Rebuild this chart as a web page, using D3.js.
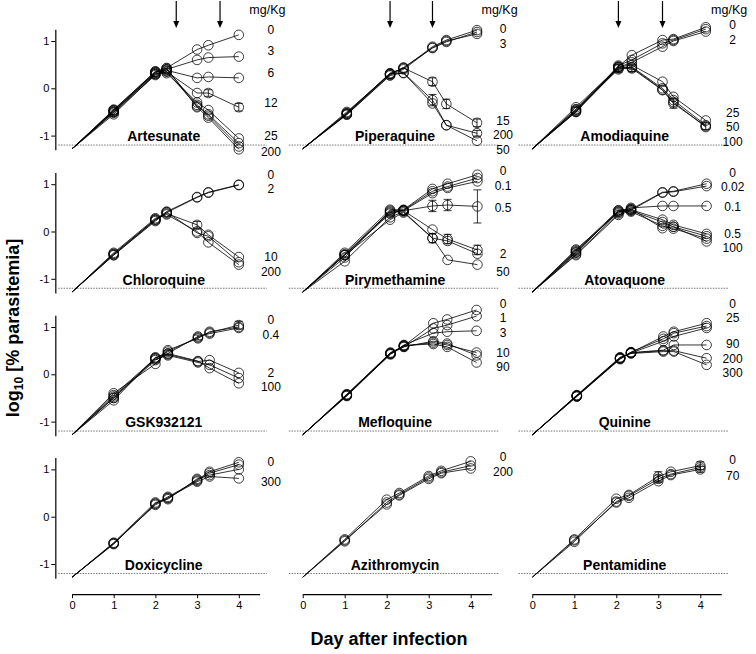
<!DOCTYPE html>
<html><head><meta charset="utf-8">
<script src="https://cdn.jsdelivr.net/npm/d3@7"></script>
<style>
body{margin:0;background:#fff;}
text{font-family:"Liberation Sans",Arial,sans-serif;fill:#000;}
</style></head>
<body>
<script>
// ---------------- DATA ----------------
const drugNames = ["Artesunate","Piperaquine","Amodiaquine","Chloroquine","Pirymethamine","Atovaquone","GSK932121","Mefloquine","Quinine","Doxicycline","Azithromycin","Pentamidine"];
const xTicks = [0,1,2,3,4];
const yTicks = [-1,0,1];
const startDay = 0, startValue = -1.28;
const detectionLimit = -1.2;
const arrowDays = [[2.5,3.55],[2.08,3.09],[2.05,3.1]];
const unitLabel = "mg/Kg";
const xTitle = "Day after infection";

// Artesunate
const artesunateDays = [1,2,2.27,3,3.27,4];
const artesunateDoses = ["0","3","6","12","25","","","200"];
const artesunateValues = [
  [-0.47,0.33,0.43,0.82,0.91,1.13],
  [-0.50,0.30,0.40,0.60,0.65,0.67],
  [-0.45,0.35,0.38,0.22,0.24,0.22],
  [-0.52,0.28,0.35,-0.10,-0.10,-0.40],
  [-0.48,0.32,0.32,-0.30,-0.46,-1.06],
  [-0.55,0.30,0.36,-0.38,-0.55,-1.16],
  [-0.50,0.34,0.40,-0.35,-0.58,-1.23],
  [-0.46,0.36,0.42,-0.40,-0.62,-1.29]];
const artesunateLabelAt = [1.23,0.79,0.33,-0.30,-1.00,null,null,-1.34];
const artesunateErrors = [[3,4,0.07],[3,5,0.08]];

// Piperaquine
const piperaquineDays = [1.05,2.08,2.4,3.09,3.42,4.15];
const piperaquineDoses = ["0","3","","15","200","50"];
const piperaquineValues = [
  [-0.52,0.32,0.42,0.88,1.02,1.23],
  [-0.55,0.28,0.40,0.86,1.00,1.15],
  [-0.50,0.30,0.44,0.85,0.98,1.19],
  [-0.54,0.30,0.43,0.14,-0.33,-0.73],
  [-0.56,0.27,0.33,-0.25,-0.78,-0.95],
  [-0.53,0.31,0.32,-0.32,-0.78,-1.11]];
const piperaquineLabelAt = [1.26,0.95,null,-0.69,-0.99,-1.29];
const piperaquineErrors = [[3,3,0.08],[3,4,0.1],[3,5,0.08],[4,3,0.12],[4,5,0.06]];

// Amodiaquine
const amodiaquineDays = [1.04,2.05,2.37,3.1,3.36,4.13];
const amodiaquineDoses = ["0","2","","25","50","","100"];
const amodiaquineValues = [
  [-0.44,0.46,0.70,1.02,1.04,1.29],
  [-0.48,0.44,0.55,0.88,1.00,1.20],
  [-0.50,0.48,0.60,0.95,1.02,1.25],
  [-0.40,0.45,0.49,0.14,-0.18,-0.68],
  [-0.50,0.42,0.42,-0.04,-0.32,-0.80],
  [-0.45,0.40,0.45,0.00,-0.25,-0.78],
  [-0.47,0.44,0.44,-0.03,-0.29,-0.82]];
const amodiaquineLabelAt = [1.34,1.02,null,-0.52,-0.82,null,-1.14];
const amodiaquineErrors = [[4,1,0.08],[4,2,0.07],[4,4,0.1],[4,5,0.07]];

// Chloroquine
const chloroquineDays = [1,2,2.27,3,3.27,4];
const chloroquineDoses = ["0","2","10","","200"];
const chloroquineValues = [
  [-0.47,0.25,0.42,0.73,0.83,0.99],
  [-0.50,0.22,0.40,0.72,0.82,0.98],
  [-0.45,0.28,0.38,0.14,-0.07,-0.54],
  [-0.50,0.24,0.41,-0.03,-0.10,-0.65],
  [-0.48,0.26,0.36,0.00,-0.23,-0.70]];
const chloroquineLabelAt = [1.20,0.90,-0.53,null,-0.85];
const chloroquineErrors = [[2,3,0.07]];

// Pirymethamine
const pirymethamineDays = [1.0,2.08,2.4,3.09,3.45,4.16];
const pirymethamineDoses = ["0","0.1","","0.5","2","","50"];
const pirymethamineValues = [
  [-0.45,0.46,0.46,0.90,1.01,1.20],
  [-0.50,0.40,0.44,0.81,0.92,1.06],
  [-0.48,0.42,0.45,0.85,0.95,1.13],
  [-0.55,0.44,0.44,0.54,0.56,0.53],
  [-0.50,0.38,0.44,0.04,-0.16,-0.39],
  [-0.63,0.30,0.42,-0.14,-0.20,-0.47],
  [-0.50,0.25,0.40,-0.14,-0.60,-0.70]];
const pirymethamineLabelAt = [1.28,0.97,null,0.50,-0.47,null,-0.85];
const pirymethamineErrors = [[3,3,0.12],[3,4,0.12],[3,5,0.35],[4,4,0.1],[4,5,0.1],[5,3,0.1]];

// Atovaquone
const atovaquoneDays = [1.04,2.05,2.35,3.1,3.36,4.15];
const atovaquoneDoses = ["0","0.02","0.1","0.5","","","100"];
const atovaquoneValues = [
  [-0.42,0.42,0.47,0.83,0.85,1.01],
  [-0.45,0.44,0.45,0.82,0.84,0.96],
  [-0.38,0.40,0.50,0.54,0.54,0.54],
  [-0.48,0.38,0.46,0.25,0.14,-0.05],
  [-0.50,0.35,0.44,0.20,0.10,-0.10],
  [-0.44,0.42,0.42,0.12,0.06,-0.15],
  [-0.40,0.45,0.48,0.07,0.10,-0.21]];
const atovaquoneLabelAt = [1.25,0.94,0.53,-0.04,null,null,-0.35];
const atovaquoneErrors = [];

// GSK932121
const gskDays = [1,2,2.3,3.02,3.3,4.0];
const gskDoses = ["0","0.4","","2","","100"];
const gskValues = [
  [-0.44,0.34,0.48,0.78,0.88,1.04],
  [-0.50,0.30,0.44,0.80,0.86,0.98],
  [-0.40,0.22,0.51,0.76,0.90,1.00],
  [-0.55,0.36,0.42,0.27,0.30,0.03],
  [-0.47,0.32,0.40,0.25,0.20,-0.08],
  [-0.50,0.34,0.44,0.28,0.13,-0.19]];
const gskLabelAt = [1.15,0.83,null,0.03,null,-0.27];
const gskErrors = [[0,5,0.08],[0,3,0.05]];

// Mefloquine
const mefloquineDays = [1.05,2.09,2.41,3.11,3.44,4.14];
const mefloquineDoses = ["0","1","3","10","","90"];
const mefloquineValues = [
  [-0.43,0.44,0.60,1.08,1.16,1.36],
  [-0.45,0.46,0.58,0.97,1.04,1.23],
  [-0.44,0.42,0.62,0.87,0.90,0.92],
  [-0.42,0.45,0.60,0.67,0.62,0.46],
  [-0.46,0.43,0.58,0.70,0.65,0.40],
  [-0.44,0.44,0.61,0.64,0.58,0.25]];
const mefloquineLabelAt = [1.50,1.19,0.87,0.46,null,0.15];
const mefloquineErrors = [];

// Quinine
const quinineDays = [1.06,2.09,2.35,3.12,3.37,4.15];
const quinineDoses = ["0","25","","90","200","300"];
const quinineValues = [
  [-0.45,0.34,0.46,0.80,0.90,1.08],
  [-0.47,0.32,0.47,0.75,0.87,1.02],
  [-0.44,0.36,0.45,0.70,0.80,0.98],
  [-0.46,0.33,0.46,0.51,0.62,0.62],
  [-0.45,0.35,0.45,0.50,0.50,0.34],
  [-0.47,0.34,0.44,0.48,0.48,0.20]];
const quinineLabelAt = [1.50,1.19,null,0.64,0.33,0.03];
const quinineErrors = [];

// Doxicycline
const doxicyclineDays = [1,2,2.3,3,3.3,4];
const doxicyclineDoses = ["0","","","300"];
const doxicyclineValues = [
  [-0.56,0.25,0.39,0.78,0.95,1.15],
  [-0.58,0.28,0.42,0.76,0.92,1.10],
  [-0.55,0.30,0.37,0.80,0.88,1.00],
  [-0.57,0.27,0.40,0.74,0.85,0.81]];
const doxicyclineLabelAt = [1.16,null,null,0.74];
const doxicyclineErrors = [];

// Azithromycin
const azithromycinDays = [1,2,2.3,3,3.3,4];
const azithromycinDoses = ["0","","200"];
const azithromycinValues = [
  [-0.48,0.36,0.50,0.86,0.97,1.17],
  [-0.52,0.30,0.47,0.83,0.94,1.08],
  [-0.50,0.26,0.45,0.80,0.92,1.02]];
const azithromycinLabelAt = [1.27,null,0.95];
const azithromycinErrors = [];

// Pentamidine
const pentamidineDays = [1,2,2.3,3,3.3,4];
const pentamidineDoses = ["0","","70"];
const pentamidineValues = [
  [-0.48,0.38,0.46,0.85,0.95,1.08],
  [-0.53,0.32,0.44,0.80,0.90,1.04],
  [-0.50,0.30,0.40,0.75,0.88,1.00]];
const pentamidineLabelAt = [1.21,null,0.86];
const pentamidineErrors = [[0,3,0.1],[1,3,0.08],[0,5,0.08],[2,5,0.06]];

// table built from the arrays above
const panels = [
  [artesunateDays,artesunateDoses,artesunateValues,artesunateLabelAt,artesunateErrors],
  [piperaquineDays,piperaquineDoses,piperaquineValues,piperaquineLabelAt,piperaquineErrors],
  [amodiaquineDays,amodiaquineDoses,amodiaquineValues,amodiaquineLabelAt,amodiaquineErrors],
  [chloroquineDays,chloroquineDoses,chloroquineValues,chloroquineLabelAt,chloroquineErrors],
  [pirymethamineDays,pirymethamineDoses,pirymethamineValues,pirymethamineLabelAt,pirymethamineErrors],
  [atovaquoneDays,atovaquoneDoses,atovaquoneValues,atovaquoneLabelAt,atovaquoneErrors],
  [gskDays,gskDoses,gskValues,gskLabelAt,gskErrors],
  [mefloquineDays,mefloquineDoses,mefloquineValues,mefloquineLabelAt,mefloquineErrors],
  [quinineDays,quinineDoses,quinineValues,quinineLabelAt,quinineErrors],
  [doxicyclineDays,doxicyclineDoses,doxicyclineValues,doxicyclineLabelAt,doxicyclineErrors],
  [azithromycinDays,azithromycinDoses,azithromycinValues,azithromycinLabelAt,azithromycinErrors],
  [pentamidineDays,pentamidineDoses,pentamidineValues,pentamidineLabelAt,pentamidineErrors]
].map((a,i)=>({name:drugNames[i],days:a[0],doses:a[1],values:a[2],labelAt:a[3],errors:a[4]}));

// ---------------- LAYOUT ----------------
const W = 756, H = 654;
const colX0 = [72, 302.7, 532.3], colK = [41.7, 42, 42];
const rowY0 = [88.3, 231.5, 374.3, 516.7], rowK = 47.3;

const svg = d3.select("body").append("svg").attr("width",W).attr("height",H);

panels.forEach((p,i)=>{
  const c = i%3, r = Math.floor(i/3);
  const x = d3.scaleLinear().domain([0,4.5]).range([colX0[c], colX0[c]+4.5*colK[c]]);
  const y = d3.scaleLinear().domain([-1.3,1.25]).range([rowY0[r]+1.3*rowK, rowY0[r]-1.25*rowK]);
  const g = svg.append("g");

  // detection limit
  g.append("line").attr("x1",x(-0.33)).attr("x2",x(4.67))
    .attr("y1",y(detectionLimit)).attr("y2",y(detectionLimit))
    .attr("stroke","#777").attr("stroke-width",1).attr("stroke-dasharray","1.5,1.2");

  // y axis (first column)
  if(c===0){
    const ya = g.append("g").attr("transform",`translate(${x(-0.4)},0)`)
      .call(d3.axisLeft(y).tickValues(yTicks).tickSize(4).tickSizeOuter(0).tickPadding(2).tickFormat(d=>String(d)));
    ya.select(".domain").attr("stroke","#000").attr("stroke-width",1.2);
    ya.selectAll(".tick line").attr("stroke","#000").attr("stroke-width",1);
    ya.selectAll(".tick text").attr("font-size",11).attr("font-family","Liberation Sans, Arial, sans-serif");
  }
  // x axis (last row)
  if(r===3){
    const xa = g.append("g").attr("transform",`translate(0,${y(-1.3)+16})`)
      .call(d3.axisBottom(x).tickValues(xTicks).tickSize(4).tickSizeOuter(0).tickPadding(3).tickFormat(d=>String(d)));
    xa.select(".domain").attr("stroke","#000").attr("stroke-width",1.2);
    xa.selectAll(".tick line").attr("stroke","#000").attr("stroke-width",1);
    xa.selectAll(".tick text").attr("font-size",11).attr("font-family","Liberation Sans, Arial, sans-serif");
  }

  // arrows (first row)
  if(r===0){
    arrowDays[c].forEach(d=>{
      const ax = x(d);
      g.append("line").attr("x1",ax).attr("x2",ax).attr("y1",1).attr("y2",22)
        .attr("stroke","#000").attr("stroke-width",1.2);
      g.append("path").attr("d",`M${ax-3},${21}L${ax+3},${21}L${ax},${28}Z`).attr("fill","#000");
    });
    g.append("text").attr("x",x(4.77)-3.5).attr("y",10).attr("dy","0.35em")
      .attr("text-anchor","middle").attr("font-size",12.5).text(unitLabel);
  }

  const line = d3.line().x(d=>x(d[0])).y(d=>y(d[1]));
  const series = p.values.map(vals=>[[startDay,startValue]].concat(p.days.map((d,j)=>[d,vals[j]])));

  g.selectAll("path.s").data(series).enter().append("path").attr("class","s")
    .attr("d",line).attr("fill","none").attr("stroke","#000").attr("stroke-width",0.8);

  // error bars
  p.errors.forEach(e=>{
    const ex = x(p.days[e[1]]), v = p.values[e[0]][e[1]];
    const y1 = y(v+e[2]), y2 = y(v-e[2]);
    g.append("line").attr("x1",ex).attr("x2",ex).attr("y1",y1).attr("y2",y2).attr("stroke","#000").attr("stroke-width",0.8);
    [y1,y2].forEach(yy=>g.append("line").attr("x1",ex-4).attr("x2",ex+4).attr("y1",yy).attr("y2",yy).attr("stroke","#000").attr("stroke-width",0.8));
  });

  // markers
  series.forEach(s=>{
    g.selectAll(null).data(s.slice(1)).enter().append("circle")
      .attr("cx",d=>x(d[0])).attr("cy",d=>y(d[1])).attr("r",4.8)
      .attr("fill","none").attr("stroke","#000").attr("stroke-width",0.75);
  });

  // dose labels
  p.doses.forEach((lab,k)=>{
    if(!lab) return;
    g.append("text").attr("x",x(4.77)).attr("y",y(p.labelAt[k])).attr("dy","0.35em")
      .attr("text-anchor","middle").attr("font-size",12).text(lab);
  });

  // panel title
  g.append("text").attr("x",x(2.2)).attr("y",y(-1.02)).attr("dy","0.35em")
    .attr("text-anchor","middle").attr("font-size",14).attr("font-weight","bold").text(p.name);
});

// axis titles
svg.append("text").attr("x",389).attr("y",645).attr("text-anchor","middle")
  .attr("font-size",18).attr("font-weight","bold").text(xTitle);

const yt = svg.append("text").attr("transform","translate(19,328) rotate(-90)")
  .attr("text-anchor","middle").attr("font-size",18).attr("font-weight","bold");
yt.append("tspan").text("log");
yt.append("tspan").attr("font-size",12).attr("dy",4).text("10");
yt.append("tspan").attr("dy",-4).text(" [% parasitemia]");
</script>
</body></html>
